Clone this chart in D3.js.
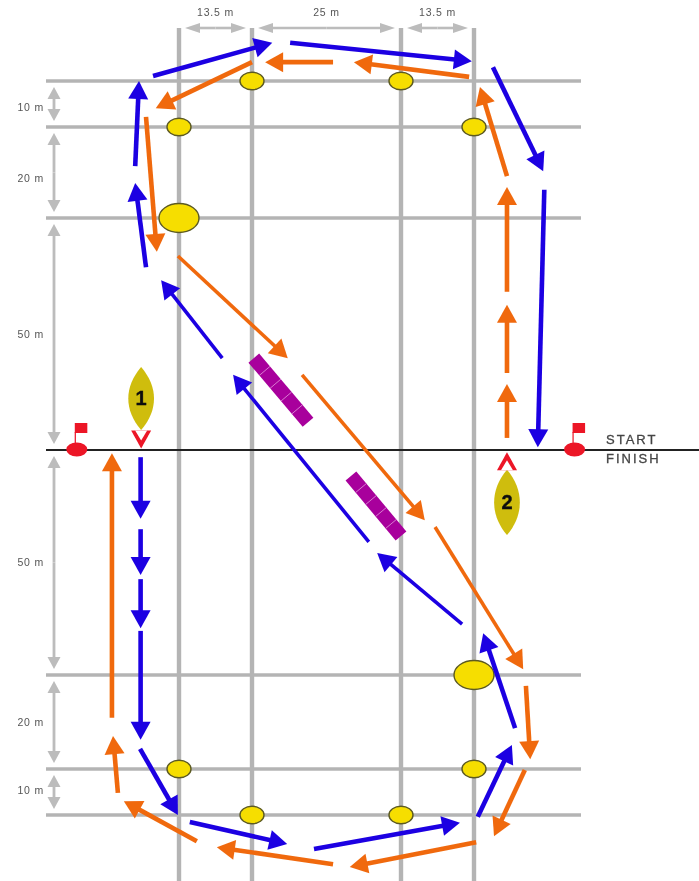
<!DOCTYPE html>
<html>
<head>
<meta charset="utf-8">
<style>
	html, body { margin: 0; padding: 0; background: #fff; }
	svg { display: block; }
	text { font-family: "Liberation Sans", Arial, sans-serif; }
</style>
<script src="https://cdn.jsdelivr.net/npm/d3@7"></script>
</head>
<body>
<div id="chart"></div>
<script>
// all course values are metres: x from the first mark column, y north (+) or south (-) of the start line
var columnsM = [0, 13.5, 38.5, 52];
var rowsM = [80, 70, 50, 0, -50, -70, -80];
var columnGaps = ['13.5 m', '25 m', '13.5 m'];
var rowGapLabels = [['10 m', 74.3], ['20 m', 58.8], ['50 m', 25], ['50 m', -24.9], ['20 m', -60], ['10 m', -74.6]];

// [x1, y1, x2, y2], tail to tip
var blueLegs = [
	[-7.1, -1.6, -7.1, -15.3],
	[-7.1, -17.6, -7.1, -27.8],
	[-7.1, -28.7, -7.1, -39.6],
	[-7.1, -40.2, -7.1, -63.8],
	[-7.2, -65.7, -0.2, -80],
	[2.0, -81.5, 19.4, -86.3],
	[23.9, -87.4, 49.4, -81.7],
	[52.7, -80.4, 59.0, -64.9],
	[59.6, -61.3, 53.7, -40.7],
	[49.8, -38.7, 34.5, -22.9],
	[33.1, -20.4, 10.0, 16.2],
	[8.0, 19.8, -3.3, 36.6],
	[-6.1, 39.4, -8.1, 57.7],
	[-8.1, 61.4, -7.4, 80],
	[-4.8, 81.1, 16.9, 88.3],
	[19.9, 88.3, 51.6, 84.3],
	[55.5, 83.0, 64.8, 60.3],
	[65.0, 56.2, 63.8, 0.6]
];
var orangeLegs = [
	[58.1, 2.6, 58.1, 14.2],
	[58.1, 16.6, 58.1, 31.3],
	[58.1, 34.1, 58.1, 56.8],
	[58.1, 59.2, 53.1, 78.7],
	[51.1, 80.9, 30.6, 84.1],
	[27.1, 84.1, 15.7, 84.1],
	[13.5, 84.1, -4.3, 74.1],
	[-6.1, 72.2, -4.1, 42.7],
	[-0.2, 41.8, 19.5, 19.8],
	[21.9, 16.2, 42.9, -15.6],
	[44.8, -17.1, 61.1, -48.7],
	[61.6, -52.3, 62.4, -67.9],
	[61.4, -70.2, 55.7, -84.6],
	[52.4, -85.9, 29.9, -91.3],
	[27.1, -90.7, 7.0, -87.0],
	[3.3, -85.7, -10.2, -77.0],
	[-11.3, -75.2, -12.2, -63.0],
	[-12.4, -59.1, -12.4, -0.7]
];
// long diagonal legs are drawn thinner in the source
var thinBlue = [9, 10, 11];
var thinOrange = [8, 9, 10];

var smallMarks = [[0, 70], [13.5, 80], [38.5, 80], [52, 70], [0, -70], [13.5, -80], [38.5, -80], [52, -70]];
var bigMarks = [[0, 50], [52, -50]];
var gates = [[13.8, 19.8, 22.9, 6.0], [30.1, -5.8, 38.5, -19.1]];
var gateCells = 5;
var startFlags = [-18.9, 70.6];
// label, x, y of bow end, y of stern end, y of marker tip
var boats = [['1', -7.0, 4.3, 17.9, 0.3], ['2', 58.1, -4.4, -18.9, -0.5]];
var lineLabels = ['START', 'FINISH'];

var COLORS = {
	GRID: '#b4b4b4',
	DIM: '#bcbcbc',
	LABEL: '#555',
	BLUE: '#1c00e2',
	ORANGE: '#f0690f',
	GATE: '#a8009c',
	MARK: '#f6de06',
	MARK_EDGE: '#5c5a22',
	BOAT: '#cfbd0c',
	RED: '#ec1226'
};

var WIDTH = 699, HEIGHT = 881;

var x = d3.scaleLinear().domain(columnsM).range([179, 252, 401, 474]);
var y = d3.scaleLinear().domain(rowsM).range([81, 127, 218, 450, 675, 769, 815]);

var svg = d3.select('#chart').append('svg')
	.attr('width', WIDTH)
	.attr('height', HEIGHT);

// source image is a soft upscaled bitmap
var defs = svg.append('defs');
defs.append('filter').attr('id', 'soft').append('feGaussianBlur').attr('stdDeviation', 0.6);
defs.append('filter').attr('id', 'softText').append('feGaussianBlur').attr('stdDeviation', 0.3);

var plot = svg.append('g').attr('filter', 'url(#soft)');
var labels = svg.append('g').attr('filter', 'url(#softText)');

var poly = d3.line();

// straight shaft with a filled head, pixel sizes
function drawArrow(g, x1, y1, x2, y2, color, shaft, headW, headL) {
	var len = Math.hypot(x2 - x1, y2 - y1);
	var ux = (x2 - x1) / len, uy = (y2 - y1) / len;
	var bx = x2 - ux * headL, by = y2 - uy * headL;
	g.append('line')
		.attr('x1', x1).attr('y1', y1)
		.attr('x2', bx + ux).attr('y2', by + uy)
		.attr('stroke', color)
		.attr('stroke-width', shaft);
	g.append('path')
		.attr('d', poly([[x2, y2], [bx - uy * headW / 2, by + ux * headW / 2], [bx + uy * headW / 2, by - ux * headW / 2]]) + 'Z')
		.attr('fill', color);
}

// grid
plot.selectAll('.row').data(rowsM.filter(function(d) { return d !== 0; }))
	.enter().append('line')
	.attr('class', 'row')
	.attr('x1', 46).attr('x2', 581)
	.attr('y1', d => y(d)).attr('y2', d => y(d))
	.attr('stroke', COLORS.GRID).attr('stroke-width', 3.6);

plot.selectAll('.column').data(columnsM)
	.enter().append('line')
	.attr('class', 'column')
	.attr('x1', d => x(d)).attr('x2', d => x(d))
	.attr('y1', 28).attr('y2', HEIGHT)
	.attr('stroke', COLORS.GRID).attr('stroke-width', 4.4);

// dimension arrows
columnGaps.forEach(function(label, i) {
	var a = x(columnsM[i]), b = x(columnsM[i + 1]), mid = (a + b) / 2;
	drawArrow(plot, mid, 28, a + 6, 28, COLORS.DIM, 2.6, 10, 15);
	drawArrow(plot, mid, 28, b - 6, 28, COLORS.DIM, 2.6, 10, 15);
	labels.append('text')
		.attr('x', mid).attr('y', 16)
		.attr('text-anchor', 'middle')
		.attr('font-size', 10.5)
		.attr('letter-spacing', 0.8)
		.attr('fill', COLORS.LABEL)
		.text(label);
});

rowsM.slice(0, -1).forEach(function(d, i) {
	var a = y(d), b = y(rowsM[i + 1]), mid = (a + b) / 2;
	drawArrow(plot, 54, mid, 54, a + 6, COLORS.DIM, 2.8, 13, 12);
	drawArrow(plot, 54, mid, 54, b - 6, COLORS.DIM, 2.8, 13, 12);
});

labels.selectAll('.row-label').data(rowGapLabels)
	.enter().append('text')
	.attr('class', 'row-label')
	.attr('x', 44)
	.attr('y', d => y(d[1]) + 4)
	.attr('text-anchor', 'end')
	.attr('font-size', 10.5)
	.attr('letter-spacing', 0.8)
	.attr('fill', COLORS.LABEL)
	.text(d => d[0]);

// start line
plot.append('line')
	.attr('x1', 46).attr('x2', WIDTH)
	.attr('y1', y(0)).attr('y2', y(0))
	.attr('stroke', '#222').attr('stroke-width', 1.8);

lineLabels.forEach(function(label, i) {
	labels.append('text')
		.attr('x', 606)
		.attr('y', y(0) + (i === 0 ? -6.5 : 12.8))
		.attr('font-size', 13)
		.attr('letter-spacing', 2)
		.attr('stroke', '#444')
		.attr('stroke-width', 0.3)
		.attr('fill', '#444')
		.text(label);
});

// gates
gates.forEach(function(d) {
	var x1 = x(d[0]), y1 = y(d[1]), x2 = x(d[2]), y2 = y(d[3]);
	plot.append('line')
		.attr('x1', x1).attr('y1', y1)
		.attr('x2', x2).attr('y2', y2)
		.attr('stroke', COLORS.GATE).attr('stroke-width', 14);
	var nx = -(y2 - y1) / Math.hypot(x2 - x1, y2 - y1), ny = (x2 - x1) / Math.hypot(x2 - x1, y2 - y1);
	d3.range(1, gateCells).forEach(function(i) {
		var cx = x1 + (x2 - x1) * i / gateCells, cy = y1 + (y2 - y1) * i / gateCells;
		plot.append('line')
			.attr('x1', cx - nx * 7).attr('y1', cy - ny * 7)
			.attr('x2', cx + nx * 7).attr('y2', cy + ny * 7)
			.attr('stroke', '#dc8ad6').attr('stroke-width', 0.9);
	});
});

// marks
function drawMarks(data, rx, ry) {
	plot.selectAll(null).data(data)
		.enter().append('ellipse')
		.attr('cx', d => x(d[0]))
		.attr('cy', d => y(d[1]))
		.attr('rx', rx).attr('ry', ry)
		.attr('fill', COLORS.MARK)
		.attr('stroke', COLORS.MARK_EDGE).attr('stroke-width', 1.4);
}
drawMarks(smallMarks, 12, 8.8);
drawMarks(bigMarks, 20, 14.5);

// start flags
startFlags.forEach(function(d) {
	var cx = x(d);
	plot.append('line')
		.attr('x1', cx - 1.5).attr('x2', cx - 1.5)
		.attr('y1', y(0) - 18).attr('y2', y(0) - 4)
		.attr('stroke', COLORS.RED).attr('stroke-width', 1.2);
	plot.append('rect')
		.attr('x', cx - 2).attr('y', y(0) - 27)
		.attr('width', 12.5).attr('height', 10)
		.attr('fill', COLORS.RED);
	plot.append('ellipse')
		.attr('cx', cx).attr('cy', y(0) - 0.5)
		.attr('rx', 10.5).attr('ry', 7)
		.attr('fill', COLORS.RED);
});

// boats with the red marker between hull and line
boats.forEach(function(d) {
	var cx = x(d[1]), y1 = y(d[2]), y2 = y(d[3]), half = 13;
	var dir = y2 < y1 ? -1 : 1;
	var midY = (y1 + y2) / 2;
	plot.append('path')
		.attr('d', 'M' + cx + ',' + y1 +
			'C' + (cx + half * 1.32) + ',' + (y1 + dir * 20) + ' ' + (cx + half * 1.32) + ',' + (y2 - dir * 20) + ' ' + cx + ',' + y2 +
			'C' + (cx - half * 1.32) + ',' + (y2 - dir * 20) + ' ' + (cx - half * 1.32) + ',' + (y1 + dir * 20) + ' ' + cx + ',' + y1 + 'Z')
		.attr('fill', COLORS.BOAT);
	var tip = y(d[4]), base = tip + dir * 18;
	plot.append('path')
		.attr('d', poly([[cx, tip], [cx - 10, base], [cx + 10, base]]) + 'Z')
		.attr('fill', COLORS.RED);
	plot.append('path')
		.attr('d', poly([[cx, tip + dir * 8], [cx - 6, base], [cx + 6, base]]) + 'Z')
		.attr('fill', '#fff');
	labels.append('text')
		.attr('x', cx)
		.attr('y', midY + 7)
		.attr('text-anchor', 'middle')
		.attr('font-size', 20)
		.attr('font-weight', 'bold')
		.attr('stroke', '#111')
		.attr('stroke-width', 0.4)
		.attr('fill', '#111')
		.text(d[0]);
});

// sailed legs
var legs = svg.append('g').attr('filter', 'url(#soft)');
blueLegs.forEach(function(d, i) {
	var shaft = thinBlue.indexOf(i) > -1 ? 3.6 : 4.6;
	drawArrow(legs, x(d[0]), y(d[1]), x(d[2]), y(d[3]), COLORS.BLUE, shaft, 20, 18);
});
orangeLegs.forEach(function(d, i) {
	var shaft = thinOrange.indexOf(i) > -1 ? 3.6 : 4.6;
	drawArrow(legs, x(d[0]), y(d[1]), x(d[2]), y(d[3]), COLORS.ORANGE, shaft, 20, 18);
});
</script>
</body>
</html>
